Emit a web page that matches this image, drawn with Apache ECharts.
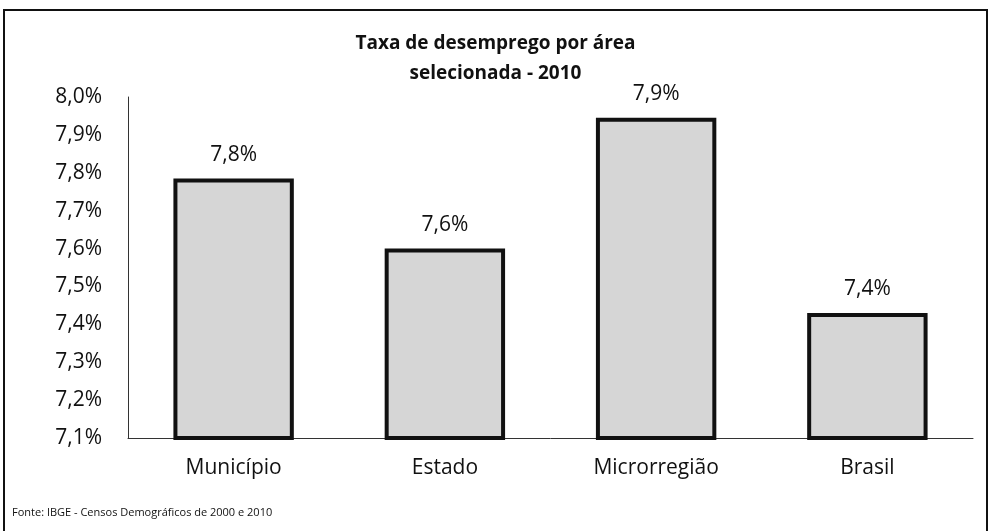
<!DOCTYPE html>
<html>
<head>
<meta charset="utf-8">
<script src="https://cdn.jsdelivr.net/npm/echarts@6/dist/echarts.min.js"></script>
<style>
html, body { margin: 0; padding: 0; background: #fff; }
#main { width: 991px; height: 531px; }
</style>
</head>
<body>
<div id="main"></div>
<script>
// dados
var categorias = ['Município', 'Estado', 'Microrregião', 'Brasil']
var taxas = [7.785, 7.60, 7.945, 7.43]
var rotulos = ['7,8%', '7,6%', '7,9%', '7,4%']

var myChart = echarts.init(document.getElementById('main'))

var fonte = 'Open Sans, Lato, sans-serif'

var option = {
    backgroundColor: '#fff',
    title: {
        text: 'Taxa de desemprego por área\nselecionada - 2010',
        left: 'center',
        top: 24,
        textStyle: { fontFamily: fonte, fontSize: 19, fontWeight: 'bold', color: '#111', lineHeight: 30 }
    },
    grid: { left: 128, right: 18, top: 97, bottom: 93 },
    xAxis: {
        type: 'category',
        data: categorias,
        axisLine: { lineStyle: { color: '#333', width: 1 } },
        axisTick: { show: false },
        axisLabel: { fontFamily: fonte, fontSize: 21, color: '#111', margin: 20 }
    },
    yAxis: {
        type: 'value',
        min: 7.1,
        max: 8.0,
        interval: 0.1,
        splitLine: { show: false },
        axisLine: { show: true, lineStyle: { color: '#333', width: 1 } },
        axisTick: { show: false },
        axisLabel: {
            fontFamily: fonte, fontSize: 21, color: '#111', margin: 26,
            formatter: function (v) { return v.toFixed(1).replace('.', ',') + '%' }
        }
    },
    series: [{
        type: 'bar',
        data: taxas,
        barWidth: '57%',
        itemStyle: { color: '#d6d6d6', borderColor: '#111', borderWidth: 4 },
        label: {
            show: true,
            position: 'top',
            distance: 13,
            fontFamily: fonte,
            fontSize: 21,
            color: '#111',
            formatter: function (p) { return rotulos[p.dataIndex] }
        }
    }],
    graphic: [
        {
            type: 'rect',
            shape: { x: 4, y: 10, width: 983, height: 540 },
            style: { fill: 'none', stroke: '#111', lineWidth: 2 }
        },
        {
            type: 'text',
            left: 12,
            top: 507,
            style: { text: 'Fonte: IBGE - Censos Demográficos de 2000 e 2010', font: '11px ' + fonte, fill: '#111' }
        }
    ]
}

myChart.setOption(option)
</script>
</body>
</html>
